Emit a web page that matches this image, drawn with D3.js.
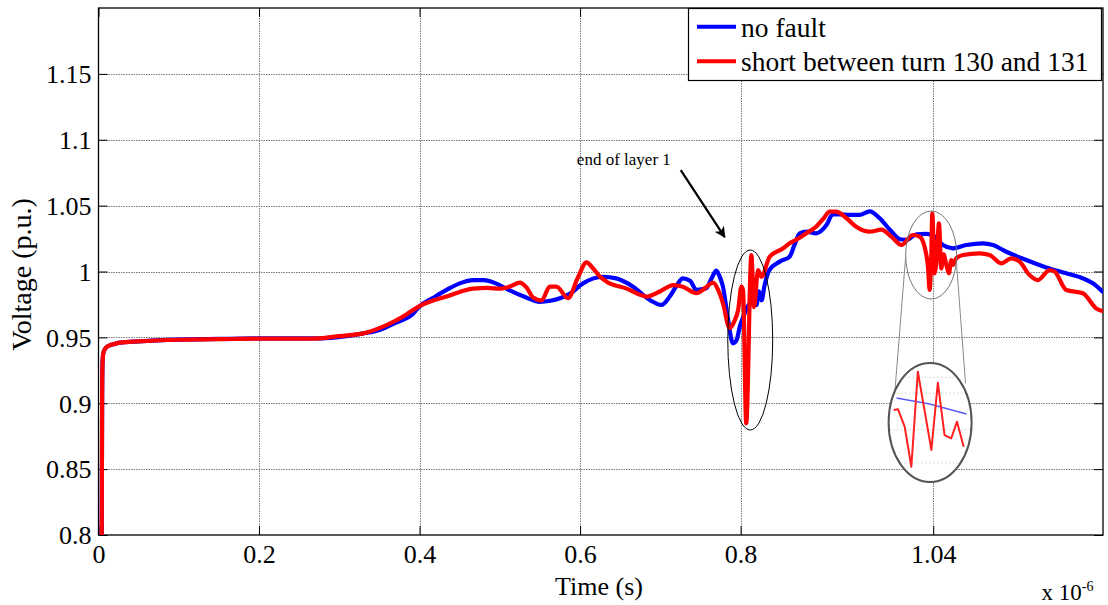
<!DOCTYPE html>
<html>
<head>
<meta charset="utf-8">
<script src="https://cdn.jsdelivr.net/npm/d3@7"></script>
<style>
  body { margin: 0; background: #fff; }
  svg { display: block; }
  svg text { font-family: "Liberation Serif", "Times New Roman", Tinos, "DejaVu Serif", serif; fill: #000; }
</style>
</head>
<body>
<svg id="chart" width="1108" height="605"></svg>
<script>
// Axis ticks (time in units of 1e-6 s, voltage in p.u.)
const xTicks = [0, 0.2, 0.4, 0.6, 0.8, 1.04];
const xTickLabels = ["0", "0.2", "0.4", "0.6", "0.8", "1.04"];
const yTicks = [0.8, 0.85, 0.9, 0.95, 1, 1.05, 1.1, 1.15];
const yTickLabels = ["0.8", "0.85", "0.9", "0.95", "1", "1.05", "1.1", "1.15"];

const seriesNames = ["no fault", "short between turn 130 and 131"];
const seriesColors = ["#0000ff", "#ff0000"];

// Healthy winding response
const noFaultTime = [0.004, 0.0045, 0.005, 0.006, 0.009, 0.014, 0.02, 0.027, 0.05, 0.1, 0.15, 0.2, 0.25, 0.276,
  0.309, 0.33, 0.35, 0.37, 0.392, 0.4, 0.417, 0.4336, 0.45, 0.4668, 0.48, 0.495, 0.508, 0.53, 0.55, 0.563,
  0.575, 0.587, 0.6037, 0.6287, 0.645, 0.666, 0.6868, 0.7014, 0.7117, 0.72, 0.728, 0.737, 0.745, 0.757,
  0.764, 0.7698, 0.774, 0.778, 0.784, 0.7905, 0.795, 0.7989, 0.805, 0.812, 0.8197, 0.823, 0.826, 0.83,
  0.836, 0.8487, 0.861, 0.867, 0.8736, 0.882, 0.894, 0.907, 0.915, 0.925, 0.936, 0.948, 0.961, 0.9733,
  0.9863, 0.9988, 1.0065, 1.019, 1.0314, 1.0417, 1.052, 1.0645, 1.0812, 1.1019, 1.1143, 1.131, 1.1559,
  1.1808, 1.2057, 1.2264, 1.2389, 1.251];
const noFaultVolt = [0.8, 0.9, 0.93, 0.938, 0.942, 0.944, 0.945, 0.946, 0.947, 0.9483, 0.9488, 0.9492, 0.9493, 0.9493,
  0.951, 0.953, 0.9556, 0.961, 0.968, 0.9735, 0.98, 0.986, 0.991, 0.9935, 0.9935, 0.991, 0.987, 0.981, 0.977, 0.9778,
  0.9797, 0.983, 0.991, 0.996, 0.9948, 0.9885, 0.9784, 0.9746, 0.981, 0.989, 0.9948, 0.993, 0.986, 0.9872,
  0.995, 1.0006, 0.996, 0.9885, 0.965, 0.9455, 0.948, 0.958, 0.968, 0.976, 0.9746, 0.985, 0.978, 0.99,
  1.0012, 1.0075, 1.0112, 1.02, 1.029, 1.0302, 1.029, 1.0353, 1.0435, 1.0433, 1.043, 1.043, 1.0457, 1.0404,
  1.0315, 1.0245, 1.024, 1.0282, 1.0285, 1.0265, 1.0201, 1.0176, 1.0201, 1.0214, 1.0201, 1.015, 1.0087,
  1.0031, 0.9986, 0.9948, 0.991, 0.9847];

// Response with an inter-turn short
const shortTime = [0.004, 0.0045, 0.005, 0.006, 0.009, 0.014, 0.02, 0.027, 0.05, 0.1, 0.15, 0.2, 0.25, 0.276,
  0.3, 0.33, 0.35, 0.371, 0.385, 0.4, 0.417, 0.4336, 0.45, 0.4668, 0.485, 0.5, 0.512, 0.525, 0.533, 0.542,
  0.552, 0.5623, 0.5706, 0.585, 0.597, 0.608, 0.616, 0.625, 0.633, 0.658, 0.683, 0.7, 0.716, 0.728, 0.745,
  0.755, 0.7656, 0.772, 0.778, 0.7864, 0.792, 0.797, 0.801, 0.803, 0.807, 0.8134, 0.8167, 0.8217, 0.826,
  0.8362, 0.853, 0.861, 0.872, 0.882, 0.894, 0.903, 0.911, 0.919, 0.932, 0.944, 0.961, 0.9753, 0.9878,
  1.0003, 1.0147, 1.023, 1.0272, 1.0334, 1.0355, 1.0376, 1.0388, 1.0417, 1.0446, 1.0471, 1.05, 1.0529,
  1.0563, 1.0595, 1.0625, 1.0646, 1.0687, 1.077, 1.0977, 1.1102, 1.1248, 1.1372, 1.1476, 1.16, 1.1704,
  1.185, 1.1912, 1.2057, 1.2264, 1.2431, 1.251];
const shortVolt = [0.8, 0.9, 0.93, 0.938, 0.942, 0.944, 0.945, 0.946, 0.947, 0.9482, 0.9486, 0.949, 0.949, 0.9493,
  0.951, 0.953, 0.957, 0.963, 0.968, 0.9738, 0.978, 0.981, 0.9845, 0.987, 0.9875, 0.987, 0.9885, 0.9915, 0.988, 0.98,
  0.978, 0.9885, 0.9885, 0.9797, 0.995, 1.007, 1.0025, 0.996, 0.9923, 0.987, 0.981, 0.985, 0.9897, 0.9885, 0.9835,
  0.987, 0.9915, 0.986, 0.976, 0.957, 0.962, 0.971, 0.9885, 0.986, 0.8848, 1.0125, 0.973, 1.001, 0.996,
  1.0112, 1.0176, 1.0214, 1.025, 1.029, 1.034, 1.04, 1.0454, 1.0454, 1.0404, 1.034, 1.0302, 1.0318, 1.0265,
  1.0201, 1.0277, 1.0265, 1.0227, 1.0037, 0.986, 1.013, 1.0442, 0.9986, 1.013, 1.0366, 1.0024, 1.013,
  1.005, 0.9986, 1.0087, 1.005, 1.01, 1.0125, 1.0138, 1.0125, 1.0062, 1.01, 1.0075, 0.9973, 0.9935,
  1.0011, 1.0, 0.986, 0.9835, 0.972, 0.970];

// Magnified view of the second disturbance
const insetTime = [1.0288, 1.0312, 1.0349, 1.0386, 1.0422, 1.0497, 1.0533, 1.057, 1.0607, 1.0639, 1.0676];
const insetShort = [1.0204, 1.0208, 1.0099, 0.9846, 1.0445, 0.9952, 1.0376, 1.0046, 1.0025, 1.013, 0.9972];
const insetNoFaultTime = [1.0304, 1.0487, 1.0692];
const insetNoFault = [1.0279, 1.0242, 1.0179];
const insetGrid = [0.987, 1.008, 1.031, 1.041];

const FONT = '"Liberation Serif", "Times New Roman", Tinos, "DejaVu Serif", serif';
const svg = d3.select("#chart").attr("font-family", FONT);
const plotLeft = 98.5, plotRight = 1103, plotTop = 8, plotBottom = 535;

const x = d3.scaleLinear().domain([0, 1.2515]).range([plotLeft, plotRight]);
const y = d3.scaleLinear().domain([0.8, 1.2]).range([plotBottom, plotTop]);

// clip region for plot contents
const defs = svg.append("defs");
defs.append("clipPath").attr("id", "plotClip")
  .append("rect").attr("x", plotLeft).attr("y", plotTop)
  .attr("width", plotRight - plotLeft).attr("height", plotBottom - plotTop);

// grid
const grid = svg.append("g").attr("stroke", "#7a7a7a").attr("stroke-width", 1).attr("stroke-dasharray", "1.5,1");
grid.selectAll("line.gx").data(xTicks.slice(1)).join("line")
  .attr("x1", d => Math.round(x(d)) + 0.5).attr("x2", d => Math.round(x(d)) + 0.5)
  .attr("y1", plotTop).attr("y2", plotBottom);
grid.selectAll("line.gy").data(yTicks.slice(1)).join("line")
  .attr("x1", plotLeft).attr("x2", plotRight)
  .attr("y1", d => Math.round(y(d)) + 0.5).attr("y2", d => Math.round(y(d)) + 0.5);

// axes box with inward ticks on all sides
const tickLen = 9;
const axB = d3.axisBottom(x).tickValues(xTicks).tickFormat((d, i) => xTickLabels[i]).tickSizeInner(-tickLen).tickSizeOuter(0);
const axT = d3.axisTop(x).tickValues(xTicks).tickFormat("").tickSizeInner(-tickLen).tickSizeOuter(0);
const axL = d3.axisLeft(y).tickValues(yTicks).tickFormat((d, i) => yTickLabels[i]).tickSizeInner(-tickLen).tickSizeOuter(0);
const axR = d3.axisRight(y).tickValues(yTicks).tickFormat("").tickSizeInner(-tickLen).tickSizeOuter(0);

function styleAxis(g) {
  g.attr("font-family", FONT).attr("font-size", 26);
  g.select(".domain").remove();
  g.selectAll(".tick line").attr("stroke", "#000").attr("stroke-width", 1);
  g.selectAll(".tick text").attr("fill", "#000");
}
const gB = svg.append("g").attr("transform", `translate(0,${plotBottom})`).call(axB).call(styleAxis);
gB.selectAll(".tick text").attr("dy", null).attr("y", 28);
svg.append("g").attr("transform", `translate(0,${plotTop})`).call(axT).call(styleAxis);
const gL = svg.append("g").attr("transform", `translate(${plotLeft},0)`).call(axL).call(styleAxis);
gL.selectAll(".tick text").attr("dy", "0.34em").attr("x", -7);
svg.append("g").attr("transform", `translate(${plotRight},0)`).call(axR).call(styleAxis);

svg.append("rect").attr("x", plotLeft).attr("y", plotTop)
  .attr("width", plotRight - plotLeft).attr("height", plotBottom - plotTop)
  .attr("fill", "none").attr("stroke", "#000").attr("stroke-width", 1.3);

// series
const line = d3.line().x(d => x(d[0])).y(d => y(d[1])).curve(d3.curveMonotoneX);
const series = [
  d3.zip(noFaultTime, noFaultVolt),
  d3.zip(shortTime, shortVolt)
];
const plot = svg.append("g").attr("clip-path", "url(#plotClip)");
series.forEach((s, i) => {
  plot.append("path").datum(s).attr("d", line)
    .attr("fill", "none").attr("stroke", seriesColors[i]).attr("stroke-width", 4.2)
    .attr("stroke-linejoin", "round").attr("stroke-linecap", "round");
});

// annotation: disturbance at the end of layer 1
const ann = svg.append("g");
const ell1 = { t: 0.812, v: 0.948, rt: 0.028, rv: 0.0683 };
ann.append("ellipse")
  .attr("cx", x(ell1.t)).attr("cy", y(ell1.v))
  .attr("rx", x(ell1.rt) - x(0)).attr("ry", y(0.8) - y(0.8 + ell1.rv))
  .attr("fill", "none").attr("stroke", "#000").attr("stroke-width", 1);

defs.append("marker").attr("id", "arrowHead").attr("viewBox", "0 0 10 10")
  .attr("refX", 9).attr("refY", 5).attr("markerWidth", 5).attr("markerHeight", 5)
  .attr("markerUnits", "strokeWidth").attr("orient", "auto")
  .append("path").attr("d", "M0,0 L10,5 L0,10 L2.5,5 Z").attr("fill", "#000");

const arrowFrom = [0.7254, 1.077], arrowTo = [0.7802, 1.0261];
ann.append("line")
  .attr("x1", x(arrowFrom[0])).attr("y1", y(arrowFrom[1]))
  .attr("x2", x(arrowTo[0])).attr("y2", y(arrowTo[1]))
  .attr("stroke", "#000").attr("stroke-width", 2.2).attr("marker-end", "url(#arrowHead)");
ann.append("text").attr("x", x(0.596)).attr("y", y(1.0808))
  .attr("font-size", 17).text("end of layer 1");

// second disturbance and magnified view
const ell2 = { t: 1.0374, v: 1.0125, rt: 0.0318, rv: 0.0334 };
const zoomC = { t: 1.0361, v: 0.8854, rt: 0.0517, rv: 0.04516 };
ann.append("ellipse")
  .attr("cx", x(ell2.t)).attr("cy", y(ell2.v))
  .attr("rx", x(ell2.rt) - x(0)).attr("ry", y(0.8) - y(0.8 + ell2.rv))
  .attr("fill", "none").attr("stroke", "#777").attr("stroke-width", 1);

const connectors = [
  [[1.0058, 1.0125], [0.9921, 0.9078]],
  [[1.069, 1.0062], [1.0802, 0.9151]]
];
connectors.forEach(c => {
  ann.append("line")
    .attr("x1", x(c[0][0])).attr("y1", y(c[0][1]))
    .attr("x2", x(c[1][0])).attr("y2", y(c[1][1]))
    .attr("stroke", "#8a8a8a").attr("stroke-width", 1);
});

const icx = x(zoomC.t), icy = y(zoomC.v);
const irx = x(zoomC.rt) - x(0), iry = y(0.8) - y(0.8 + zoomC.rv);
defs.append("clipPath").attr("id", "insetClip")
  .append("ellipse").attr("cx", icx).attr("cy", icy).attr("rx", irx - 1).attr("ry", iry - 1);
defs.append("filter").attr("id", "soft").append("feGaussianBlur").attr("stdDeviation", 0.6);

ann.append("ellipse").attr("cx", icx).attr("cy", icy).attr("rx", irx).attr("ry", iry)
  .attr("fill", "#fff").attr("stroke", "none");

const ix = d3.scaleLinear().domain([1.026, 1.072]).range([icx - irx, icx + irx]);
const iy = d3.scaleLinear().domain([0.975, 1.05]).range([icy + iry, icy - iry]);
const inset = ann.append("g").attr("clip-path", "url(#insetClip)");
inset.selectAll("line.ig").data(insetGrid).join("line")
  .attr("x1", icx - irx).attr("x2", icx + irx)
  .attr("y1", d => iy(d)).attr("y2", d => iy(d))
  .attr("stroke", "#d8d8d8").attr("stroke-width", 1).attr("stroke-dasharray", "2,2");
const iline = d3.line().x(d => ix(d[0])).y(d => iy(d[1]));
inset.append("path").datum(d3.zip(insetNoFaultTime, insetNoFault)).attr("d", iline)
  .attr("fill", "none").attr("stroke", "#5a5aff").attr("stroke-width", 1.6);
inset.append("path").datum(d3.zip(insetTime, insetShort)).attr("d", iline)
  .attr("fill", "none").attr("stroke", "#ff2020").attr("stroke-width", 2).attr("stroke-linejoin", "round");
ann.append("ellipse").attr("cx", icx).attr("cy", icy).attr("rx", irx).attr("ry", iry)
  .attr("fill", "none").attr("stroke", "#555").attr("stroke-width", 2).attr("filter", "url(#soft)");

// legend
const lg = svg.append("g");
lg.append("rect").attr("x", 688.5).attr("y", plotTop + 0.5).attr("width", 413).attr("height", 72)
  .attr("fill", "#fff").attr("stroke", "#000").attr("stroke-width", 1.2);
seriesNames.forEach((name, i) => {
  const cy = 26.7 + i * 34.5;
  lg.append("line").attr("x1", 697).attr("x2", 736).attr("y1", cy).attr("y2", cy)
    .attr("stroke", seriesColors[i]).attr("stroke-width", 4);
  lg.append("text").attr("x", 741).attr("y", cy + 9.8).attr("font-size", 27.5).text(name);
});

// axis labels
svg.append("text").attr("x", 599).attr("y", 595).attr("text-anchor", "middle").attr("font-size", 26).text("Time (s)");
svg.append("text").attr("transform", "translate(31,274.5) rotate(-90)").attr("text-anchor", "middle")
  .attr("font-size", 28).text("Voltage (p.u.)");
const mult = svg.append("text").attr("x", 1041.5).attr("y", 600).attr("font-size", 23);
mult.append("tspan").text("x 10");
mult.append("tspan").attr("dy", -9).attr("font-size", 14).text("-6");
</script>
</body>
</html>
